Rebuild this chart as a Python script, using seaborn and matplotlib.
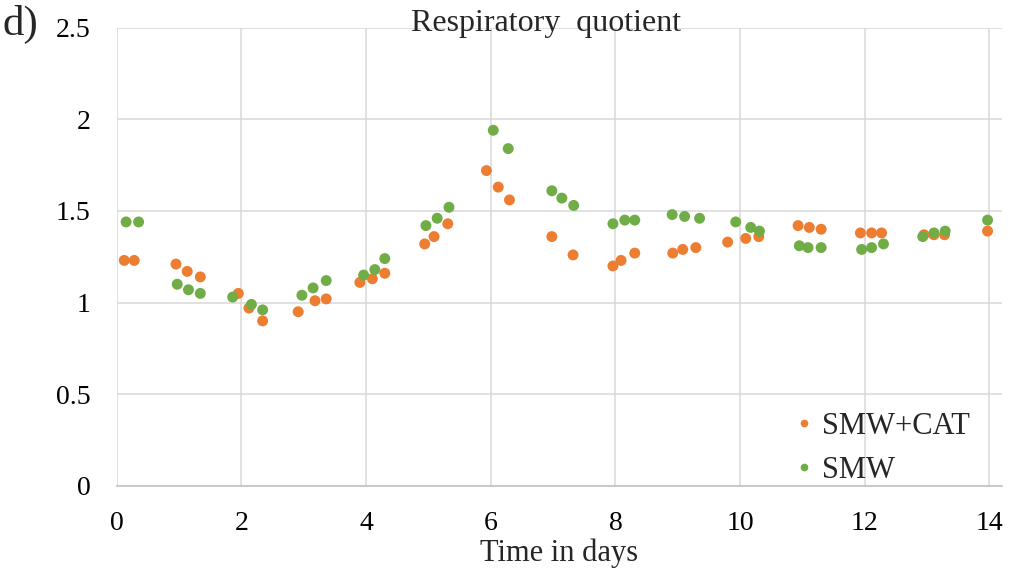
import matplotlib
matplotlib.use("Agg")
import matplotlib.pyplot as plt
import numpy as np
import pandas as pd
import seaborn as sns

# Respiratory quotient over time, two treatments
days_cat = [0.12, 0.28, 0.95, 1.13, 1.34, 1.95, 2.12, 2.34, 2.91, 3.18, 3.36,
            3.90, 4.10, 4.30, 4.94, 5.09, 5.31, 5.93, 6.12, 6.30, 6.98, 7.32,
            7.96, 8.09, 8.31, 8.92, 9.08, 9.29, 9.80, 10.09, 10.30, 10.93,
            11.11, 11.30, 11.93, 12.11, 12.27, 12.95, 13.11, 13.28, 13.97]
rq_cat = [1.23, 1.23, 1.21, 1.17, 1.14, 1.05, 0.97, 0.90, 0.95, 1.01, 1.02,
          1.11, 1.13, 1.16, 1.32, 1.36, 1.43, 1.72, 1.63, 1.56, 1.36, 1.26,
          1.20, 1.23, 1.27, 1.27, 1.29, 1.30, 1.33, 1.35, 1.36, 1.42,
          1.41, 1.40, 1.38, 1.38, 1.38, 1.37, 1.37, 1.37, 1.39]

days_smw = [0.15, 0.35, 0.97, 1.15, 1.34, 1.86, 2.16, 2.34, 2.97, 3.15, 3.36,
            3.96, 4.14, 4.30, 4.96, 5.14, 5.33, 6.04, 6.28, 6.98, 7.14, 7.33,
            7.96, 8.15, 8.31, 8.91, 9.11, 9.35, 9.93, 10.17, 10.31, 10.95,
            11.09, 11.30, 11.95, 12.11, 12.30, 12.93, 13.11, 13.29, 13.97]
rq_smw = [1.44, 1.44, 1.10, 1.07, 1.05, 1.03, 0.99, 0.96, 1.04, 1.08, 1.12,
          1.15, 1.18, 1.24, 1.42, 1.46, 1.52, 1.94, 1.84, 1.61, 1.57, 1.53,
          1.43, 1.45, 1.45, 1.48, 1.47, 1.46, 1.44, 1.41, 1.39, 1.31,
          1.30, 1.30, 1.29, 1.30, 1.32, 1.36, 1.38, 1.39, 1.45]

series = ["SMW+CAT", "SMW"]
colors = ["#ED7D31", "#70AD47"]
x_ticks = [0, 2, 4, 6, 8, 10, 12, 14]
y_ticks = [0, 0.5, 1, 1.5, 2, 2.5]
y_tick_labels = ["0", "0.5", "1", "1.5", "2", "2.5"]

df = pd.concat([
    pd.DataFrame({"day": days_cat, "rq": rq_cat, "series": series[0]}),
    pd.DataFrame({"day": days_smw, "rq": rq_smw, "series": series[1]}),
])

sns.set_style("white")
plt.rcParams["font.family"] = ["Liberation Serif", "DejaVu Serif"]

fig = plt.figure(figsize=(10.11, 5.76), dpi=100)
ax = fig.add_axes([0.1155, 0.1565, 0.8755, 0.7955])

sns.scatterplot(data=df, x="day", y="rq", hue="series", hue_order=series,
                palette=colors, s=62, linewidth=0, ax=ax, zorder=3)

ax.set_xlim(0, 14.2)
ax.set_ylim(0, 2.5)
ax.set_xticks(x_ticks)
ax.set_yticks(y_ticks)
ax.set_yticklabels(y_tick_labels)

grid_col = "#D9D9D9"
for xv in x_ticks:
    ax.axvline(xv, color=grid_col, lw=1.1, zorder=1)
for yv in y_ticks[1:]:
    ax.axhline(yv, color=grid_col, lw=1.1, zorder=1)

for side in ["top", "right", "left"]:
    ax.spines[side].set_visible(False)
ax.spines["bottom"].set_color("#BFBFBF")
ax.spines["bottom"].set_linewidth(1.2)

ax.tick_params(axis="both", length=0, labelsize=20, colors="#000000")
ax.tick_params(axis="y", pad=19)
ax.tick_params(axis="x", pad=18)

ax.set_xlabel("Time in days", fontsize=22, labelpad=2)
ax.set_ylabel("")

handles, labels = ax.get_legend_handles_labels()
ax.legend(handles, labels, loc="lower right", bbox_to_anchor=(0.988, -0.045),
          frameon=False, fontsize=22, markerscale=0.7, handletextpad=-0.4,
          labelspacing=0.5, borderaxespad=0.3)

fig.text(0.540, 0.960, "Respiratory  quotient", fontsize=23,
         ha="center", va="center")
fig.text(0.002, 0.958, "d)", fontsize=31, ha="left", va="center")

fig.savefig("out.png", dpi=100, facecolor="white")
